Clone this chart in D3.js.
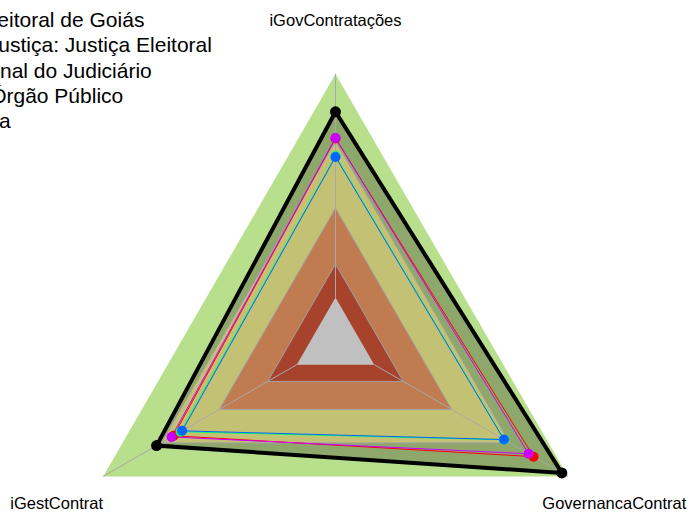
<!DOCTYPE html>
<html><head><meta charset="utf-8">
<script src="https://cdn.jsdelivr.net/npm/d3@7"></script>
<style>html,body{margin:0;padding:0;background:#fff;overflow:hidden}</style>
</head><body>
<svg id="chart" width="689" height="512"></svg>
<script>
// ---- data ----
const axisLabels = ["iGovContratações", "iGestContrat", "GovernancaContrat"];
const bandLevels = [1.0, 0.70, 0.40, 0.15, 0.0];
const bandColors = ["#b8df8b", "#c3c173", "#c17b50", "#a7432c", "#c0c0c0"];
const seriesNames = [
  "Tribunal Regional Eleitoral de Goiás",
  "Segmento de Justiça: Justiça Eleitoral",
  "Conselho Nacional do Judiciário",
  "Tipo de Órgão Público",
  "Média da Administração Pública"
];
const legendVisible = ["itoral de Goiás", "stiça: Justiça Eleitoral", "nal do Judiciário", "rgão Público", "a"];
const seriesColors = ["#000000", "#ff0000", "#00ff66", "#0066ff", "#cc00ff"];
const valuesTRE      = [0.831, 0.724, 0.969];
const valuesSegmento = [0.712, 0.636, 0.823];
const valuesCNJ      = [0.633, 0.600, 0.672];
const valuesTipo     = [0.629, 0.592, 0.670];
const valuesMedia    = [0.714, 0.647, 0.797];
const seriesValues = [valuesTRE, valuesSegmento, valuesCNJ, valuesTipo, valuesMedia];

// ---- layout ----
const svg = d3.select("#chart");
const cx = 335.5, cy = 342.3, R = 268.3;
const r = d3.scaleLinear().domain([0, 1]).range([R / 6, R]);
const ang = d3.scaleLinear().domain([0, axisLabels.length]).range([Math.PI / 2, Math.PI / 2 + 2 * Math.PI]);
const pt = (v, i, rad) => {
  const rr = rad !== undefined ? rad : r(v);
  const a = ang(i);
  return [cx + rr * Math.cos(a), cy - rr * Math.sin(a)];
};
const poly = vals => vals.map((v, i) => pt(v, i));
const line = d3.line().curve(d3.curveLinearClosed);

const g = svg.append("g");
// outer band
g.append("path").attr("d", line(poly(axisLabels.map(() => bandLevels[0])))).attr("fill", bandColors[0]);
// TRE polygon fill over the outer band
g.append("path").attr("d", line(poly(valuesTRE))).attr("fill", "#8ea86b");
// remaining bands
bandLevels.slice(1).forEach((lv, k) => {
  g.append("path").attr("d", line(poly(axisLabels.map(() => lv))))
    .attr("fill", bandColors[k + 1]);
});
// band outlines
bandLevels.slice(1, 4).forEach(lv => {
  g.append("path").attr("d", line(poly(axisLabels.map(() => lv))))
    .attr("fill", "none").attr("stroke", "#a0a0a0").attr("stroke-width", 1);
});
// axes
axisLabels.forEach((lab, i) => {
  const p0 = pt(0, i), p1 = pt(1, i);
  g.append("line").attr("x1", p0[0]).attr("y1", p0[1]).attr("x2", p1[0]).attr("y2", p1[1])
    .attr("stroke", "#a8a8a8").attr("stroke-width", 1);
});
// series
seriesValues.forEach((vals, s) => {
  g.append("path").attr("d", line(poly(vals))).attr("fill", "none")
    .attr("stroke", seriesColors[s]).attr("stroke-width", s === 0 ? 4 : 1)
    .attr("stroke-linejoin", "miter");
});
seriesValues.forEach((vals, s) => {
  g.selectAll(null).data(poly(vals)).enter().append("circle")
    .attr("cx", d => d[0]).attr("cy", d => d[1])
    .attr("r", s === 0 ? 5.5 : 5).attr("fill", seriesColors[s]);
});
// axis labels
axisLabels.forEach((lab, i) => {
  const p = pt(0, i, R * 1.2);
  svg.append("text").attr("x", p[0]).attr("y", p[1]).attr("dy", "0.35em")
    .attr("text-anchor", "middle")
    .style("font-family", "'Liberation Sans', Arial, sans-serif").style("font-size", "16.5px")
    .attr("fill", "#000").text(lab);
});
// legend (clipped at left edge)
const legendStart = [9, 10, 0, 6.5, -1];
seriesNames.forEach((name, i) => {
  const t = svg.append("text").attr("y", 27 + i * 25.3)
    .style("font-family", "'Liberation Sans', Arial, sans-serif").style("font-size", "21px")
    .attr("fill", "#000").text(name);
  const pre = name.length - legendVisible[i].length;
  const w = pre > 0 ? t.node().getSubStringLength(0, pre) : 0;
  t.attr("x", legendStart[i] - w);
});
</script>
</body></html>
